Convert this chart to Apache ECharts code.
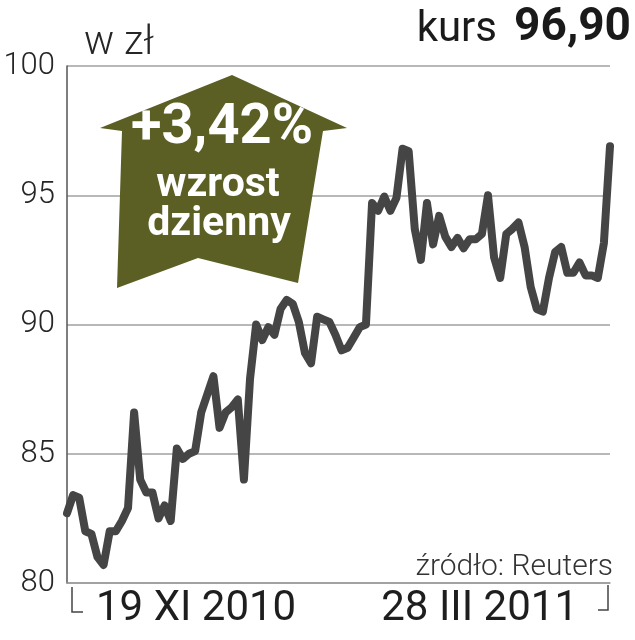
<!DOCTYPE html>
<html>
<head>
<meta charset="utf-8">
<script src="https://cdn.jsdelivr.net/npm/echarts@6/dist/echarts.min.js"></script>
<style>
html,body{margin:0;padding:0;background:#fff;}
#chart{width:635px;height:640px;}
</style>
</head>
<body>
<div id="chart"></div>
<script>
// ---- data ----
const prices = [
  82.7, 83.4, 83.3, 82.0, 81.9, 81.0, 80.7, 82.0, 82.0, 82.4,
  82.9, 86.6, 84.0, 83.5, 83.5, 82.5, 83.0, 82.4, 85.2, 84.8,
  85.0, 85.1, 86.6, 87.3, 88.0, 86.0, 86.6, 86.8, 87.1, 84.0,
  87.9, 90.0, 89.4, 89.9, 89.6, 90.6, 90.95, 90.8, 90.1, 88.9,
  88.5, 90.3, 90.2, 90.1, 89.6, 89.0, 89.1, 89.5, 89.9, 90.0,
  94.7, 94.4, 94.95, 94.4, 94.9, 96.8, 96.7, 93.7, 92.5, 94.7,
  93.1, 94.2, 93.4, 93.0, 93.35, 92.95, 93.3, 93.3, 93.5, 95.0,
  92.6, 91.8, 93.5, 93.7, 93.95, 93.0, 91.45, 90.6, 90.5, 91.8,
  92.8, 93.0, 92.0, 92.0, 92.4, 91.9, 91.9, 91.8, 93.15, 96.9
];
const categories = prices.map((_, i) => String(i));
const dateLabels = ['19 XI 2010', '28 III 2011'];
const yTicks = [80, 85, 90, 95, 100];
const unitLabel = 'w zł';
const kursLabel = 'kurs';
const kursValue = '96,90';
const changeText = ['+3,42%', 'wzrost', 'dzienny'];
const sourceText = 'źródło: Reuters';

const chart = echarts.init(document.getElementById('chart'), null, {renderer: 'canvas'});
const FONT = 'Roboto, "Liberation Sans", sans-serif';
const TXT = '#262626';

chart.setOption({
  animation: false,
  backgroundColor: '#fff',
  grid: {left: 67, right: 25, top: 66, bottom: 57, containLabel: false},
  xAxis: {
    type: 'category',
    data: categories,
    boundaryGap: false,
    axisLine: {show: true, lineStyle: {color: '#9a9a9a', width: 1.5}},
    axisTick: {show: false},
    axisLabel: {show: false},
    splitLine: {show: false}
  },
  yAxis: {
    type: 'value',
    min: yTicks[0],
    max: yTicks[yTicks.length - 1],
    interval: 5,
    axisLine: {show: true, lineStyle: {color: '#555', width: 1.5}},
    axisTick: {show: false},
    axisLabel: {
      show: true, margin: 12, fontSize: 31, fontWeight: 300,
      fontFamily: FONT, color: TXT
    },
    splitLine: {show: true, lineStyle: {color: '#a0a0a0', width: 1.5}}
  },
  series: [{
    type: 'line',
    data: prices,
    showSymbol: false,
    symbol: 'none',
    lineStyle: {color: '#454545', width: 8, cap: 'round', join: 'round'},
    z: 3
  }]
});

function drawOverlay() {
  const last = prices.length - 1;
  const pFirst = chart.convertToPixel({gridIndex: 0}, [0, yTicks[0]]);
  const pLast = chart.convertToPixel({gridIndex: 0}, [last, yTicks[0]]);
  const xL = pFirst[0] + 5;
  const xR = pLast[0] - 2;
  const yB = pFirst[1];
  const elements = [
    // arrow badge
    {
      type: 'polygon', z: 10,
      shape: {points: [[232,75],[347,128],[323,131],[298,283],[198,258],[117,288],[122,131],[100,128]]},
      style: {fill: '#5b5f24'}
    },
    {type: 'text', z: 11, x: 222, y: 157, style: {text: changeText[0], fill: '#fff', font: 'bold 56px ' + FONT, textAlign: 'center', textVerticalAlign: 'bottom'}},
    {type: 'text', z: 11, x: 218, y: 206, style: {text: changeText[1], fill: '#fff', font: 'bold 41px ' + FONT, textAlign: 'center', textVerticalAlign: 'bottom'}},
    {type: 'text', z: 11, x: 219, y: 245, style: {text: changeText[2], fill: '#fff', font: 'bold 41px ' + FONT, textAlign: 'center', textVerticalAlign: 'bottom'}},
    // header
    {type: 'text', x: 84, y: 64, style: {text: unitLabel, fill: TXT, font: '300 40px ' + FONT, textAlign: 'left', textVerticalAlign: 'bottom'}},
    {type: 'text', x: 497, y: 51, style: {text: kursLabel, fill: '#1a1a1a', font: '400 42px ' + FONT, textAlign: 'right', textVerticalAlign: 'bottom'}},
    {type: 'text', x: 631, y: 51, style: {text: kursValue, fill: '#1a1a1a', font: 'bold 46px ' + FONT, textAlign: 'right', textVerticalAlign: 'bottom'}},
    // source
    {type: 'text', x: 613, y: 582, style: {text: sourceText, fill: '#333', font: '300 30px ' + FONT, textAlign: 'right', textVerticalAlign: 'bottom'}},
    // date brackets
    {type: 'polyline', shape: {points: [[xL, yB + 4], [xL, yB + 29], [xL + 11, yB + 29]]}, style: {stroke: '#444', lineWidth: 1.5, fill: null}},
    {type: 'polyline', shape: {points: [[xR, yB + 2], [xR, yB + 27], [xR - 10, yB + 27]]}, style: {stroke: '#444', lineWidth: 1.5, fill: null}},
    {type: 'text', x: xL + 24, y: yB + 47, style: {text: dateLabels[0], fill: '#1e1e1e', font: '400 42px ' + FONT, textAlign: 'left', textVerticalAlign: 'bottom'}},
    {type: 'text', x: xR - 30, y: yB + 47, style: {text: dateLabels[1], fill: '#1e1e1e', font: '400 42px ' + FONT, textAlign: 'right', textVerticalAlign: 'bottom'}}
  ];
  chart.setOption({graphic: {elements: elements}});
}
drawOverlay();
</script>
</body>
</html>
